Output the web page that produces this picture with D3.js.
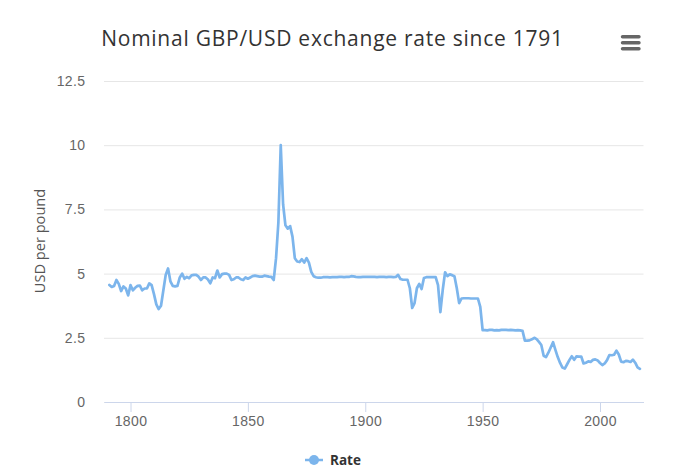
<!DOCTYPE html>
<html>
<head>
<meta charset="utf-8">
<script src="https://cdnjs.cloudflare.com/ajax/libs/d3/7.8.5/d3.min.js"></script>
<style>
  html, body { margin: 0; padding: 0; background: #fff; }
  svg { display: block; font-family: "Open Sans", sans-serif; }
</style>
</head>
<body>
<svg id="chart" width="679" height="474"></svg>
<script>
var title = "Nominal GBP/USD exchange rate since 1791";
var y_title = "USD per pound";
var series_name = "Rate";
var first_year = 1791;
var x_ticks = [1800, 1850, 1900, 1950, 2000];
var y_ticks = [0, 2.5, 5, 7.5, 10, 12.5];
var y_tick_labels = ["0", "2.5", "5", "7.5", "10", "12.5"];

// one row per decade
var rate = [
  4.56, 4.48, 4.52, 4.75, 4.60, 4.32, 4.50, 4.42, 4.15,             // 1791-1799
  4.55, 4.35, 4.45, 4.52, 4.53, 4.35, 4.42, 4.42, 4.62, 4.55,       // 1800s
  4.20, 3.80, 3.62, 3.75, 4.35, 4.95, 5.20, 4.70, 4.52, 4.50,       // 1810s
  4.52, 4.85, 5.00, 4.80, 4.87, 4.82, 4.93, 4.95, 4.95, 4.88,       // 1820s
  4.75, 4.85, 4.85, 4.77, 4.62, 4.85, 4.82, 5.12, 4.85, 4.98,       // 1830s
  5.00, 5.00, 4.95, 4.75, 4.78, 4.85, 4.85, 4.78, 4.75, 4.85,       // 1840s
  4.80, 4.85, 4.90, 4.92, 4.90, 4.88, 4.88, 4.92, 4.90, 4.88,       // 1850s
  4.87, 4.75, 5.60, 7.00, 10.0, 7.70, 6.88, 6.75, 6.85, 6.44,       // 1860s
  5.60, 5.47, 5.45, 5.56, 5.43, 5.60, 5.43, 5.07, 4.90, 4.86,       // 1870s
  4.84, 4.84, 4.86, 4.86, 4.86, 4.85, 4.86, 4.86, 4.86, 4.87,       // 1880s
  4.87, 4.86, 4.87, 4.87, 4.90, 4.89, 4.87, 4.86, 4.86, 4.87,       // 1890s
  4.87, 4.87, 4.87, 4.87, 4.87, 4.86, 4.87, 4.87, 4.87, 4.86,       // 1900s
  4.87, 4.87, 4.86, 4.87, 4.95, 4.79, 4.76, 4.76, 4.76, 4.43,       // 1910s
  3.66, 3.85, 4.43, 4.60, 4.40, 4.83, 4.86, 4.86, 4.86, 4.86,       // 1920s
  4.86, 4.55, 3.50, 4.36, 5.05, 4.90, 4.97, 4.94, 4.90, 4.43,       // 1930s
  3.85, 4.03, 4.04, 4.04, 4.04, 4.03, 4.03, 4.03, 4.03, 3.70,       // 1940s
  2.80, 2.80, 2.79, 2.81, 2.81, 2.79, 2.80, 2.79, 2.81, 2.81,       // 1950s
  2.81, 2.80, 2.81, 2.80, 2.79, 2.80, 2.79, 2.77, 2.39, 2.39,       // 1960s
  2.40, 2.44, 2.50, 2.45, 2.34, 2.22, 1.80, 1.75, 1.92, 2.12,       // 1970s
  2.33, 2.03, 1.75, 1.52, 1.34, 1.30, 1.47, 1.64, 1.78, 1.64,       // 1980s
  1.78, 1.77, 1.77, 1.50, 1.53, 1.58, 1.56, 1.64, 1.66, 1.62,       // 1990s
  1.52, 1.44, 1.50, 1.63, 1.83, 1.82, 1.84, 2.00, 1.85, 1.57,       // 2000s
  1.55, 1.60, 1.59, 1.56, 1.65, 1.53, 1.35, 1.29                    // 2010-2017
];

var data = rate.map(function(d, i) { return { year: first_year + i, rate: d }; });

var plot_left = 104, plot_right = 643.5;
var plot_top = 81, plot_bottom = 402;

// 1800 sits at x=130.5 and 2000 at x=600, the domain is worked back from that
var px_per_year = (600 - 130.5) / 200;
var x = d3.scaleLinear()
  .domain([1800 - (130.5 - plot_left) / px_per_year,
           1800 + (plot_right - 130.5) / px_per_year])
  .range([plot_left, plot_right]);
var y = d3.scaleLinear().domain([0, 12.5]).range([plot_bottom, plot_top]);

var svg = d3.select("#chart");

svg.append("text")
  .attr("x", 332.5).attr("y", 45.5)
  .attr("text-anchor", "middle")
  .attr("fill", "#333333")
  .style("font-size", "21px")
  .style("letter-spacing", "0.75px")
  .text(title);

// hamburger menu
svg.append("g").selectAll("line").data([0, 1, 2]).enter().append("line")
  .attr("x1", 622.5).attr("x2", 639)
  .attr("y1", function(d) { return 36.7 + d * 6; })
  .attr("y2", function(d) { return 36.7 + d * 6; })
  .attr("stroke", "#666666").attr("stroke-width", 3.4)
  .attr("stroke-linecap", "round");

// grid and y labels
var y_axis = d3.axisLeft(y)
  .tickValues(y_ticks)
  .tickSize(plot_right - plot_left)
  .tickPadding(18.5)
  .tickFormat(function(d, i) { return y_tick_labels[i]; });

var yg = svg.append("g")
  .attr("transform", "translate(" + plot_right + ",0)")
  .call(y_axis);
yg.select(".domain").remove();
yg.selectAll("line").attr("stroke", "#e6e6e6");
yg.selectAll("text").attr("fill", "#666666")
  .style("font-size", "14px").style("letter-spacing", "0.4px");

// x axis
var x_axis = d3.axisBottom(x)
  .tickValues(x_ticks)
  .tickSize(10)
  .tickSizeOuter(0)
  .tickPadding(4)
  .tickFormat(d3.format("d"));

var xg = svg.append("g")
  .attr("transform", "translate(0," + plot_bottom + ")")
  .call(x_axis);
xg.select(".domain").attr("stroke", "#ccd6eb");
xg.selectAll("line").attr("stroke", "#ccd6eb");
xg.selectAll("text").attr("fill", "#666666")
  .style("font-size", "14px").style("letter-spacing", "0.4px");

svg.append("text")
  .attr("transform", "translate(45,241) rotate(-90)")
  .attr("text-anchor", "middle")
  .attr("fill", "#555555")
  .style("font-size", "14.6px")
  .text(y_title);

var line = d3.line()
  .x(function(d) { return x(d.year); })
  .y(function(d) { return y(d.rate); });

svg.append("path")
  .datum(data)
  .attr("d", line)
  .attr("fill", "none")
  .attr("stroke", "#7cb5ec")
  .attr("stroke-width", 2.7)
  .attr("stroke-linejoin", "round")
  .attr("stroke-linecap", "round");

// legend
var legend = svg.append("g").attr("transform", "translate(0,460)");
legend.append("line")
  .attr("x1", 305).attr("x2", 323)
  .attr("stroke", "#7cb5ec").attr("stroke-width", 2.5);
legend.append("circle")
  .attr("cx", 314).attr("cy", 0).attr("r", 5)
  .attr("fill", "#7cb5ec");
legend.append("text")
  .attr("x", 330).attr("y", 5)
  .attr("fill", "#333333")
  .style("font-size", "13.5px")
  .style("font-weight", "bold")
  .text(series_name);
</script>
</body>
</html>
